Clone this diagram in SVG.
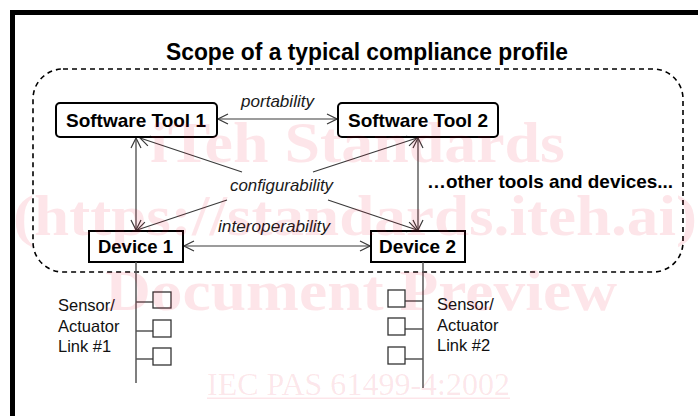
<svg xmlns="http://www.w3.org/2000/svg" width="698" height="416" viewBox="0 0 698 416">
<defs>
<style>
.bold{font-family:"Liberation Sans",Arial,sans-serif;font-weight:bold;font-size:19px;fill:#000}
.ital{font-family:"Liberation Sans",Arial,sans-serif;font-style:italic;font-size:17px;fill:#1a1a1a}
.reg{font-family:"Liberation Sans",Arial,sans-serif;font-size:16.5px;fill:#111}
.box{fill:none;stroke:#000;stroke-width:2}
.conn{stroke:#3a3a3a;stroke-width:1.2;fill:none}
.link{stroke:#555;stroke-width:1.5;fill:none}
.dev{fill:none;stroke:#333;stroke-width:1.3}
.wm{font-family:"Liberation Serif","Times New Roman",serif;fill:#e8002a;fill-opacity:0.1}
</style>
<marker id="arr" markerUnits="userSpaceOnUse" markerWidth="12" markerHeight="12" viewBox="0 0 12 12" refX="11" refY="6" orient="auto-start-reverse">
<path d="M1,1 L11,6 L1,11" fill="none" stroke="#3a3a3a" stroke-width="1.2"/>
</marker>
</defs>
<rect width="698" height="416" fill="#fff"/>
<rect x="12.5" y="12.5" width="800" height="500" fill="none" stroke="#000" stroke-width="5"/>
<text class="bold" x="166" y="60" style="font-size:23px" textLength="402" lengthAdjust="spacingAndGlyphs">Scope of a typical compliance profile</text>
<rect id="scope" x="33" y="69" width="650" height="203" rx="30" ry="30" fill="none" stroke="#000" stroke-width="1.6" stroke-dasharray="5,4"/>
<g id="connectors">
<line class="conn" x1="218" y1="119" x2="337" y2="119" marker-start="url(#arr)" marker-end="url(#arr)"/>
<line class="conn" x1="136" y1="138" x2="136" y2="230" marker-start="url(#arr)" marker-end="url(#arr)"/>
<line class="conn" x1="418" y1="138" x2="418" y2="230" marker-start="url(#arr)" marker-end="url(#arr)"/>
<line class="conn" x1="242" y1="172" x2="140" y2="138" marker-end="url(#arr)"/>
<line class="conn" x1="313" y1="172" x2="417" y2="138" marker-end="url(#arr)"/>
<line class="conn" x1="227" y1="200" x2="137" y2="230" marker-end="url(#arr)"/>
<line class="conn" x1="328" y1="200" x2="417" y2="230" marker-end="url(#arr)"/>
<line class="conn" x1="184" y1="246" x2="370" y2="246" marker-start="url(#arr)" marker-end="url(#arr)"/>
<text class="ital" x="241" y="107" textLength="73" lengthAdjust="spacingAndGlyphs">portability</text>
<text class="ital" x="230" y="191" textLength="103" lengthAdjust="spacingAndGlyphs">configurability</text>
<text class="ital" x="218" y="232" textLength="112" lengthAdjust="spacingAndGlyphs">interoperability</text>
</g>
<g id="tool1">
<rect class="box" x="56" y="103" width="161" height="34" rx="4"/>
<text class="bold" x="66" y="127" textLength="140" lengthAdjust="spacingAndGlyphs">Software Tool 1</text>
</g>
<g id="tool2">
<rect class="box" x="338" y="103" width="160" height="34" rx="4"/>
<text class="bold" x="348" y="127" textLength="140" lengthAdjust="spacingAndGlyphs">Software Tool 2</text>
</g>
<g id="device1">
<rect class="box" x="89" y="231" width="94" height="31"/>
<text class="bold" x="98" y="253" textLength="75" lengthAdjust="spacingAndGlyphs">Device 1</text>
</g>
<g id="device2">
<rect class="box" x="371" y="231" width="94" height="31"/>
<text class="bold" x="379" y="253" textLength="77" lengthAdjust="spacingAndGlyphs">Device 2</text>
</g>
<g id="others">
<text class="bold" x="427" y="188" textLength="246" lengthAdjust="spacingAndGlyphs">…other tools and devices...</text>
</g>
<g id="link1">
<line class="link" x1="136" y1="262" x2="136" y2="383"/>
<line class="link" x1="136" y1="302" x2="153" y2="302"/>
<line class="link" x1="136" y1="331" x2="153" y2="331"/>
<line class="link" x1="136" y1="359" x2="153" y2="359"/>
<rect class="dev" x="153" y="292" width="18" height="16"/>
<rect class="dev" x="153" y="320" width="18" height="17"/>
<rect class="dev" x="153" y="348" width="18" height="17"/>
<text class="reg" x="58" y="311">Sensor/</text>
<text class="reg" x="58" y="331.5">Actuator</text>
<text class="reg" x="58" y="352">Link #1</text>
</g>
<g id="link2">
<line class="link" x1="423" y1="262" x2="423" y2="388"/>
<line class="link" x1="405" y1="301" x2="423" y2="301"/>
<line class="link" x1="405" y1="329" x2="423" y2="329"/>
<line class="link" x1="405" y1="359" x2="423" y2="359"/>
<rect class="dev" x="388" y="290" width="17" height="17"/>
<rect class="dev" x="388" y="318" width="17" height="17"/>
<rect class="dev" x="388" y="347" width="17" height="17"/>
<text class="reg" x="437" y="310">Sensor/</text>
<text class="reg" x="437" y="330.5">Actuator</text>
<text class="reg" x="437" y="351">Link #2</text>
</g>
<g id="watermark">
<text class="wm" x="150" y="162" style="font-size:56px;font-weight:bold" textLength="415" lengthAdjust="spacingAndGlyphs">iTeh Standards</text>
<text class="wm" x="13" y="235" style="font-size:56px;font-weight:bold" textLength="684" lengthAdjust="spacingAndGlyphs">(https://standards.iteh.ai)</text>
<text class="wm" x="105" y="310" style="font-size:56px;font-weight:bold" textLength="512" lengthAdjust="spacingAndGlyphs">Document Preview</text>
<text class="wm" x="207" y="395" style="font-size:32px" textLength="303" lengthAdjust="spacingAndGlyphs">IEC PAS 61499-4:2002</text>
<rect x="207" y="397.5" width="303" height="1.5" fill="#e8002a" fill-opacity="0.1"/>
</g>
</svg>
